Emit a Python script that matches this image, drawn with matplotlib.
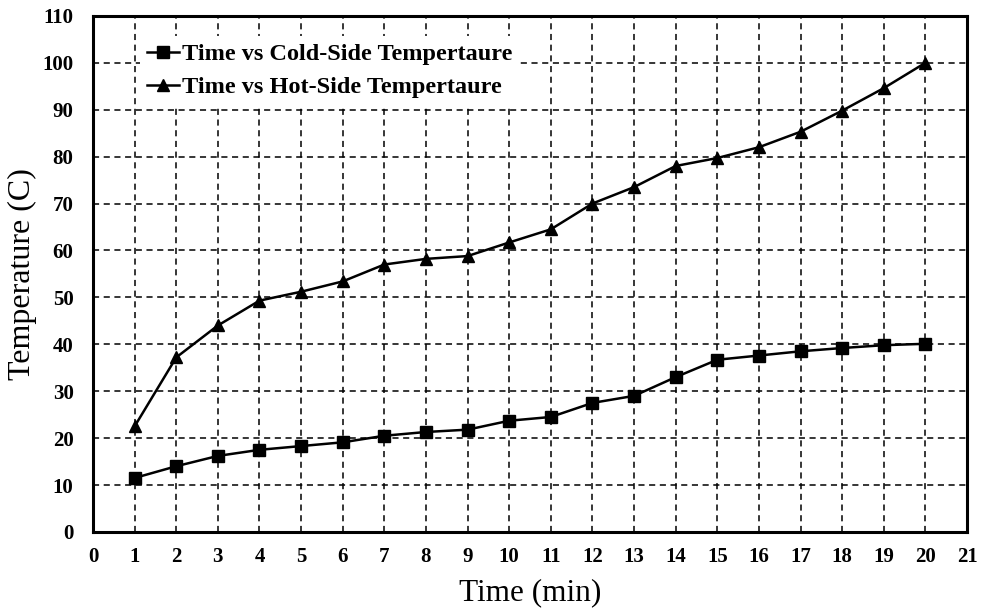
import matplotlib.pyplot as plt

# data
time_min = list(range(1, 21))
cold_side = [11.5, 14.0, 16.2, 17.5, 18.3, 19.1, 20.5, 21.3, 21.8, 23.7,
             24.5, 27.5, 29.0, 33.0, 36.7, 37.6, 38.5, 39.2, 39.8, 40.1]
hot_side = [22.5, 37.2, 44.0, 49.3, 51.2, 53.4, 57.0, 58.2, 58.8, 61.7,
            64.5, 70.0, 73.5, 78.0, 79.7, 82.0, 85.3, 89.8, 94.6, 100.0]
xticks = list(range(0, 22))
yticks = list(range(0, 111, 10))

plt.rcParams['font.family'] = ['Liberation Serif', 'DejaVu Serif']

fig = plt.figure(figsize=(9.81, 6.10), dpi=100)
ax = fig.add_axes([0.0948, 0.128, 0.891, 0.846])

ax.plot(time_min, cold_side, color='black', lw=1.8, marker='s', markersize=8,
        label='Time vs Cold-Side Tempertaure', zorder=3)
ax.plot(time_min, hot_side, color='black', lw=1.8, marker='^', markersize=9,
        label='Time vs Hot-Side Tempertaure', zorder=3)

ax.set_xlim(0, 21)
ax.set_ylim(0, 110)
ax.set_xticks(xticks)
ax.set_yticks(yticks)
ax.tick_params(length=0, labelsize=15)
ax.tick_params(axis='x', pad=11)
ax.tick_params(axis='y', pad=14)
for lab in ax.get_xticklabels() + ax.get_yticklabels():
    lab.set_fontweight('bold')

ax.grid(True, color='black', linestyle=(0, (4, 3)), lw=1.1)
ax.set_axisbelow(True)
for sp in ax.spines.values():
    sp.set_linewidth(2.2)

ax.set_xlabel('Time (min)', fontsize=22.5, labelpad=8)
ax.set_ylabel('Temperature (C)', fontsize=23, labelpad=4)

leg = ax.legend(loc='upper left', bbox_to_anchor=(0.04, 0.985), frameon=True,
                fancybox=False, edgecolor='none', facecolor='white', framealpha=1,
                prop={'weight': 'bold', 'size': 17.5}, handlelength=1.3,
                handletextpad=0.12, labelspacing=0.45, borderpad=0.3)

fig.savefig('out.png', dpi=100)
